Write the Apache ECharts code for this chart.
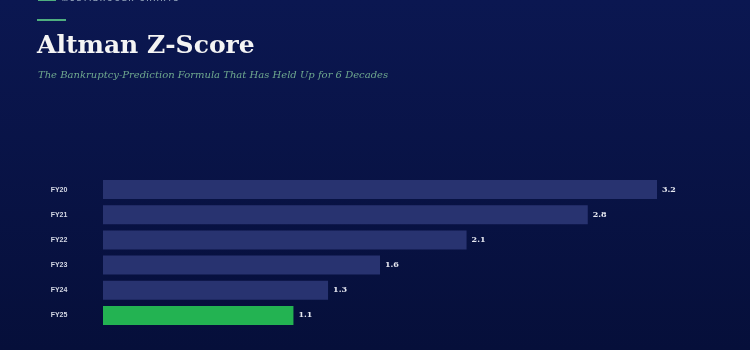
<!DOCTYPE html>
<html>
<head>
<meta charset="utf-8">
<script src="https://cdn.jsdelivr.net/npm/echarts@6/dist/echarts.min.js"></script>
<style>
html,body{margin:0;padding:0;background:#081448;}
#chart{width:750px;height:350px;}
</style>
</head>
<body>
<div id="chart"></div>
<script>
var categories = ['FY20', 'FY21', 'FY22', 'FY23', 'FY24', 'FY25'];
var zScores = [3.2, 2.8, 2.1, 1.6, 1.3, 1.1];
var highlightCategory = 'FY25';

var chart = echarts.init(document.getElementById('chart'));

var barData = zScores.map(function (v, i) {
  var isHi = categories[i] === highlightCategory;
  return {
    value: v,
    itemStyle: { color: isHi ? '#23b352' : '#283370' }
  };
});

chart.setOption({
  backgroundColor: {
    type: 'linear', x: 0, y: 0, x2: 0, y2: 1,
    colorStops: [
      { offset: 0, color: '#0b1751' },
      { offset: 1, color: '#060f3a' }
    ]
  },
  animation: false,
  graphic: [
    { type: 'rect', shape: { x: 38, y: -1, width: 18, height: 2 }, style: { fill: '#4fae7f' } },
    { type: 'text', left: 62, top: -4, style: { text: 'M U L T I B A G G E R   C H A R T S', fill: '#8fa0b8', font: 'bold 7px "Liberation Sans", Arial, sans-serif' } },
    { type: 'rect', shape: { x: 37, y: 19, width: 29, height: 2 }, style: { fill: '#4fae7f' } },
    { type: 'text', left: 37, top: 34, style: { text: 'Altman Z-Score', fill: '#f4f4f4', font: 'bold 25px "DejaVu Serif", Georgia, serif' } },
    { type: 'text', left: 38, top: 70, style: { text: 'The Bankruptcy-Prediction Formula That Has Held Up for 6 Decades', fill: '#6fa88e', font: 'italic 10px "DejaVu Serif", Georgia, serif' } }
  ],
  grid: { left: 103, top: 177, width: 554, height: 151, containLabel: false },
  xAxis: {
    type: 'value', min: 0, max: 3.2,
    show: false,
    splitLine: { show: false }
  },
  yAxis: {
    type: 'category',
    data: categories,
    inverse: true,
    axisLine: { show: false },
    axisTick: { show: false },
    splitLine: { show: false },
    axisLabel: {
      align: 'center',
      margin: 44,
      color: '#d4d8e4',
      fontSize: 7,
      fontWeight: 'bold',
      fontFamily: '"Liberation Sans", Arial, sans-serif'
    }
  },
  series: [{
    type: 'bar',
    data: barData,
    barWidth: 19,
    label: {
      show: true,
      position: 'right',
      distance: 5,
      color: '#e6e8f0',
      fontSize: 8,
      fontWeight: 'bold',
      fontFamily: '"DejaVu Serif", Georgia, serif',
      formatter: function (p) { return p.value.toFixed(1); }
    }
  }]
});
</script>
</body>
</html>
